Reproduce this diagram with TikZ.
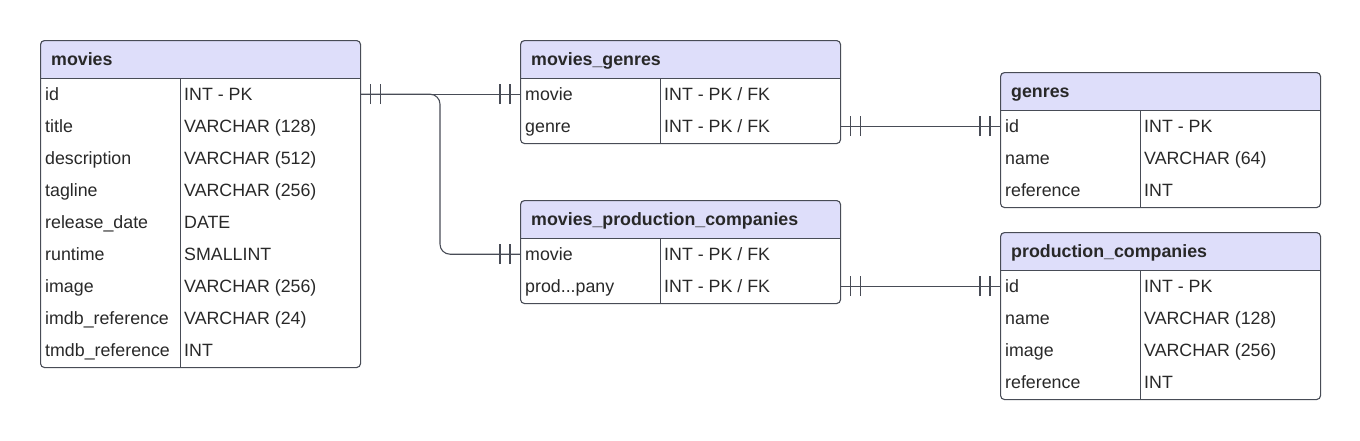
\documentclass[tikz,border=0pt]{standalone}
\usepackage{fontspec}
\setmainfont{Liberation Sans}
\definecolor{hdrfill}{RGB}{222,222,250}
\definecolor{edge}{RGB}{72,76,86}
\definecolor{txt}{RGB}{40,40,40}
\tikzset{
  frame/.style={draw=edge, line width=1.1pt, rounded corners=4pt, inner sep=0pt, anchor=north west, minimum width=320pt},
  rowslot/.style={inner sep=0pt, minimum width=320pt, minimum height=32pt, anchor=north west},
  cell/.style={inner sep=0pt, anchor=base west, text=txt, font=\fontsize{17.8}{20}\selectfont},
  hdrtext/.style={inner sep=0pt, anchor=base west, text=txt, font=\fontsize{17.8}{20}\selectfont\bfseries},
  divline/.style={draw=edge, line width=1pt},
  conn/.style={draw=edge, line width=1.1pt},
  tick/.style={draw=edge, line width=1.1pt}
}
\newcommand\errow[4]{% name, field, type, top-left
  \node[rowslot] (#1) at (#4) {};
  \node[cell] (#1-f) at ([xshift=5pt,yshift=-6.5pt]#1.west) {#2};
  \node[cell] (#1-t) at ([xshift=144pt,yshift=-6.5pt]#1.west) {#3};
}
\newcommand\erhead[5]{% name, title, left x, top y, total height
  \fill[hdrfill] (#3,#4+38) {[rounded corners=4pt] -- (#3,#4) -- (#3+320,#4)} -- (#3+320,#4+38) -- cycle;
  \draw[divline] (#3,#4+38) -- (#3+320,#4+38);
  \draw[divline] (#3+140,#4+38) -- (#3+140,#4+#5);
  \node[frame, minimum height=#5 pt] (#1) at (#3,#4) {};
  \node[hdrtext] (#1-h) at (#3+11,#4+25) {#2};
}
\newcommand\bars[2]{% node anchor, direction sign
  \draw[tick] ([xshift=#2*10pt,yshift=-10pt]#1) -- ([xshift=#2*10pt,yshift=10pt]#1);
  \draw[tick] ([xshift=#2*20pt,yshift=-10pt]#1) -- ([xshift=#2*20pt,yshift=10pt]#1);
}
\begin{document}
\begin{tikzpicture}[x=1pt,y=-1pt]
\useasboundingbox (0,0) rectangle (1360,440);
% movies
\erhead{movies}{movies}{40}{40}{327}
\errow{mv1}{id}{INT - PK}{40,78}
\errow{mv2}{title}{VARCHAR (128)}{40,110}
\errow{mv3}{description}{VARCHAR (512)}{40,142}
\errow{mv4}{tagline}{VARCHAR (256)}{40,174}
\errow{mv5}{release\_date}{DATE}{40,206}
\errow{mv6}{runtime}{SMALLINT}{40,238}
\errow{mv7}{image}{VARCHAR (256)}{40,270}
\errow{mv8}{imdb\_reference}{VARCHAR (24)}{40,302}
\errow{mv9}{tmdb\_reference}{INT}{40,334}
% movies_genres
\erhead{mg}{movies\_genres}{520}{40}{103}
\errow{mg1}{movie}{INT - PK / FK}{520,78}
\errow{mg2}{genre}{INT - PK / FK}{520,110}
% genres
\erhead{gn}{genres}{1000}{72}{135}
\errow{gn1}{id}{INT - PK}{1000,110}
\errow{gn2}{name}{VARCHAR (64)}{1000,142}
\errow{gn3}{reference}{INT}{1000,174}
% movies_production_companies
\erhead{mpc}{movies\_production\_companies}{520}{200}{103}
\errow{mpc1}{movie}{INT - PK / FK}{520,238}
\errow{mpc2}{prod...pany}{INT - PK / FK}{520,270}
% production_companies
\erhead{pc}{production\_companies}{1000}{232}{167}
\errow{pc1}{id}{INT - PK}{1000,270}
\errow{pc2}{name}{VARCHAR (128)}{1000,302}
\errow{pc3}{image}{VARCHAR (256)}{1000,334}
\errow{pc4}{reference}{INT}{1000,366}
% connectors
\coordinate (bend) at (440,0);
\draw[conn] (mv1.east) -- (mg1.west);
\draw[conn, rounded corners=10pt] (mv1.east) -- (bend |- mv1.east) -- (bend |- mpc1.west) -- (mpc1.west);
\draw[conn] (mg2.east) -- (gn1.west);
\draw[conn] (mpc2.east) -- (pc1.west);
\bars{mv1.east}{1}
\bars{mg1.west}{-1}
\bars{mpc1.west}{-1}
\bars{mg2.east}{1}
\bars{gn1.west}{-1}
\bars{mpc2.east}{1}
\bars{pc1.west}{-1}
\end{tikzpicture}
\end{document}
